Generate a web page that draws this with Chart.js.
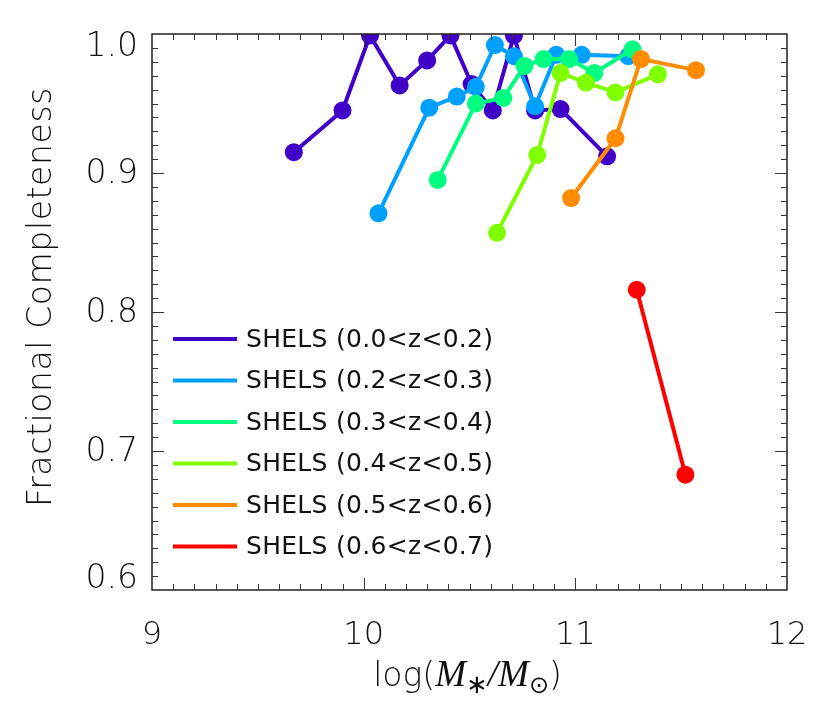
<!DOCTYPE html>
<html>
<head>
<meta charset="utf-8">
<script src="https://cdn.jsdelivr.net/npm/chart.js@4.4.0/dist/chart.umd.min.js"></script>
<style>
  html, body { margin: 0; padding: 0; background: #fff; }
  #wrap { width: 830px; height: 727px; }
</style>
</head>
<body>
<div id="wrap"><canvas id="chart" width="830" height="727"></canvas></div>
<script>
// --------- Data ---------
const seriesLabels = [
  "SHELS (0.0<z<0.2)",
  "SHELS (0.2<z<0.3)",
  "SHELS (0.3<z<0.4)",
  "SHELS (0.4<z<0.5)",
  "SHELS (0.5<z<0.6)",
  "SHELS (0.6<z<0.7)"
];
const seriesColors = ["#4000c8", "#00a0ff", "#00ff80", "#80ff00", "#ff8c00", "#ff0000"];

const massZ00 = [9.67, 9.90, 10.03, 10.17, 10.30, 10.41, 10.51, 10.61, 10.71, 10.81, 10.93, 11.15];
const compZ00 = [0.915, 0.945, 0.999, 0.963, 0.981, 0.999, 0.964, 0.945, 0.999, 0.945, 0.946, 0.912];

const massZ02 = [10.07, 10.31, 10.44, 10.53, 10.62, 10.71, 10.81, 10.91, 11.03, 11.25];
const compZ02 = [0.871, 0.947, 0.955, 0.962, 0.992, 0.984, 0.948, 0.985, 0.985, 0.984];

const massZ03 = [10.35, 10.53, 10.66, 10.76, 10.85, 10.97, 11.09, 11.27];
const compZ03 = [0.895, 0.950, 0.954, 0.977, 0.982, 0.982, 0.972, 0.989];

const massZ04 = [10.63, 10.82, 10.93, 11.05, 11.19, 11.39];
const compZ04 = [0.857, 0.913, 0.972, 0.965, 0.958, 0.971];

const massZ05 = [10.98, 11.19, 11.31, 11.57];
const compZ05 = [0.882, 0.925, 0.982, 0.974];

const massZ06 = [11.29, 11.52];
const compZ06 = [0.816, 0.683];

const xTicks = [9, 10, 11, 12];
const yTicks = [0.6, 0.7, 0.8, 0.9, 1.0];
const yTitle = "Fractional Completeness";

const allMass = [massZ00, massZ02, massZ03, massZ04, massZ05, massZ06];
const allComp = [compZ00, compZ02, compZ03, compZ04, compZ05, compZ06];

// --------- Fonts ---------
const LIGHT = '"DejaVu Sans", sans-serif';

// --------- Plugins ---------
// IDL-style frame with inward major/minor ticks on all four sides
const frameTicks = {
  id: "frameTicks",
  afterDraw(chart) {
    const { ctx, chartArea: a, scales: { x, y } } = chart;
    ctx.save();
    ctx.strokeStyle = "#222";
    ctx.lineWidth = 1.5;
    ctx.strokeRect(a.left, a.top, a.right - a.left, a.bottom - a.top);

    ctx.lineWidth = 1;
    ctx.strokeStyle = "#333";
    ctx.beginPath();
    const nx = Math.round((x.max - x.min) / 0.1);
    for (let i = 1; i < nx; i++) {
      const px = Math.round(x.getPixelForValue(x.min + i * 0.1)) + 0.5;
      const len = i % 10 === 0 ? 12 : 6;
      ctx.moveTo(px, a.bottom); ctx.lineTo(px, a.bottom - len);
      ctx.moveTo(px, a.top); ctx.lineTo(px, a.top + len);
    }
    const ny = Math.round((y.max - y.min) / 0.01);
    for (let i = 1; i < ny; i++) {
      const py = Math.round(y.getPixelForValue(y.min + i * 0.01)) + 0.5;
      const len = i % 10 === 0 ? 12 : 6;
      ctx.moveTo(a.left, py); ctx.lineTo(a.left + len, py);
      ctx.moveTo(a.right, py); ctx.lineTo(a.right - len, py);
    }
    ctx.stroke();
    ctx.restore();
  }
};

// y tick labels kept inside the axis span (IDL style) + rotated y title
const yLabels = {
  id: "yLabels",
  afterDraw(chart) {
    const { ctx, chartArea: a, scales: { y } } = chart;
    ctx.save();
    ctx.fillStyle = "#111";
    ctx.font = "200 33px " + LIGHT;
    ctx.textAlign = "right";
    ctx.textBaseline = "middle";
    yTicks.forEach((v) => {
      let py = y.getPixelForValue(v);
      py = Math.min(Math.max(py, a.top + 12), a.bottom - 12);
      ctx.fillText(v.toFixed(1), a.left - 14, py + 1);
    });
    ctx.translate(42, (a.top + a.bottom) / 2 - 15);
    ctx.rotate(-Math.PI / 2);
    ctx.textAlign = "center";
    if ("letterSpacing" in ctx) ctx.letterSpacing = "0.6px";
    ctx.fillText(yTitle, 0, 0);
    ctx.restore();
  }
};

// Legend drawn inside the plot, lines only (no markers)
const insideLegend = {
  id: "insideLegend",
  afterDraw(chart) {
    const { ctx, chartArea: a } = chart;
    ctx.save();
    ctx.font = "25px " + LIGHT;
    ctx.textBaseline = "middle";
    ctx.textAlign = "left";
    if ("letterSpacing" in ctx) ctx.letterSpacing = "0.3px";
    chart.data.datasets.forEach((ds, i) => {
      const yy = a.top + 305 + i * 41.5;
      ctx.strokeStyle = ds.borderColor;
      ctx.lineWidth = 4;
      ctx.beginPath();
      ctx.moveTo(a.left + 21, yy);
      ctx.lineTo(a.left + 85, yy);
      ctx.stroke();
      ctx.fillStyle = "#111";
      ctx.fillText(ds.label, a.left + 94, yy + 1);
    });
    ctx.restore();
  }
};

// x-axis title with math: log(M_*/M_sun)
const xTitle = {
  id: "xTitle",
  afterDraw(chart) {
    const { ctx, chartArea: a } = chart;
    const serif = 'italic 37px "Liberation Serif", serif';
    const parts = [
      { t: "log(", f: "200 33px " + LIGHT, dy: 0 },
      { t: "M", f: serif, dy: 0 },
      { t: "\u2217", f: "26px " + LIGHT, dy: 7 },
      { t: "/", f: serif, dy: 0 },
      { t: "M", f: serif, dy: 0 },
      { t: "\u2299", f: "24px " + LIGHT, dy: 7 },
      { t: ")", f: "200 33px " + LIGHT, dy: 0 }
    ];
    ctx.save();
    ctx.fillStyle = "#111";
    ctx.textBaseline = "alphabetic";
    let total = 0;
    parts.forEach((p) => { ctx.font = p.f; p.w = ctx.measureText(p.t).width; total += p.w; });
    let cx = (a.left + a.right) / 2 - 2 - total / 2;
    const base = a.bottom + 96;
    parts.forEach((p) => {
      ctx.font = p.f;
      ctx.fillText(p.t, cx, base + p.dy);
      cx += p.w;
    });
    ctx.restore();
  }
};

// --------- Chart ---------
const datasets = seriesLabels.map((label, i) => ({
  label,
  data: allMass[i].map((m, k) => ({ x: m, y: allComp[i][k] })),
  borderColor: seriesColors[i],
  backgroundColor: seriesColors[i],
  borderWidth: 4,
  pointRadius: 9,
  pointBorderWidth: 0,
  pointBackgroundColor: seriesColors[i],
  tension: 0,
  clip: 0,
  order: -i
}));

new Chart(document.getElementById("chart"), {
  type: "line",
  data: { datasets },
  plugins: [frameTicks, yLabels, insideLegend, xTitle],
  options: {
    responsive: false,
    animation: false,
    layout: { padding: { top: 34, right: 43, left: 0, bottom: 0 } },
    plugins: { legend: { display: false }, tooltip: { enabled: false } },
    scales: {
      x: {
        type: "linear",
        min: xTicks[0],
        max: xTicks[xTicks.length - 1],
        afterBuildTicks: (s) => { s.ticks = xTicks.map((v) => ({ value: v })); },
        afterFit: (s) => { s.height = 137; },
        grid: { display: false },
        border: { display: false },
        ticks: {
          color: "#111",
          padding: 18,
          font: { family: LIGHT, size: 32, weight: 200 },
          maxRotation: 0,
          callback: (v) => String(v)
        }
      },
      y: {
        type: "linear",
        min: yTicks[0],
        max: yTicks[yTicks.length - 1],
        afterBuildTicks: (s) => { s.ticks = yTicks.map((v) => ({ value: v })); },
        afterFit: (s) => { s.width = 152; },
        grid: { display: false },
        border: { display: false },
        ticks: { display: false }
      }
    }
  }
});
</script>
</body>
</html>
